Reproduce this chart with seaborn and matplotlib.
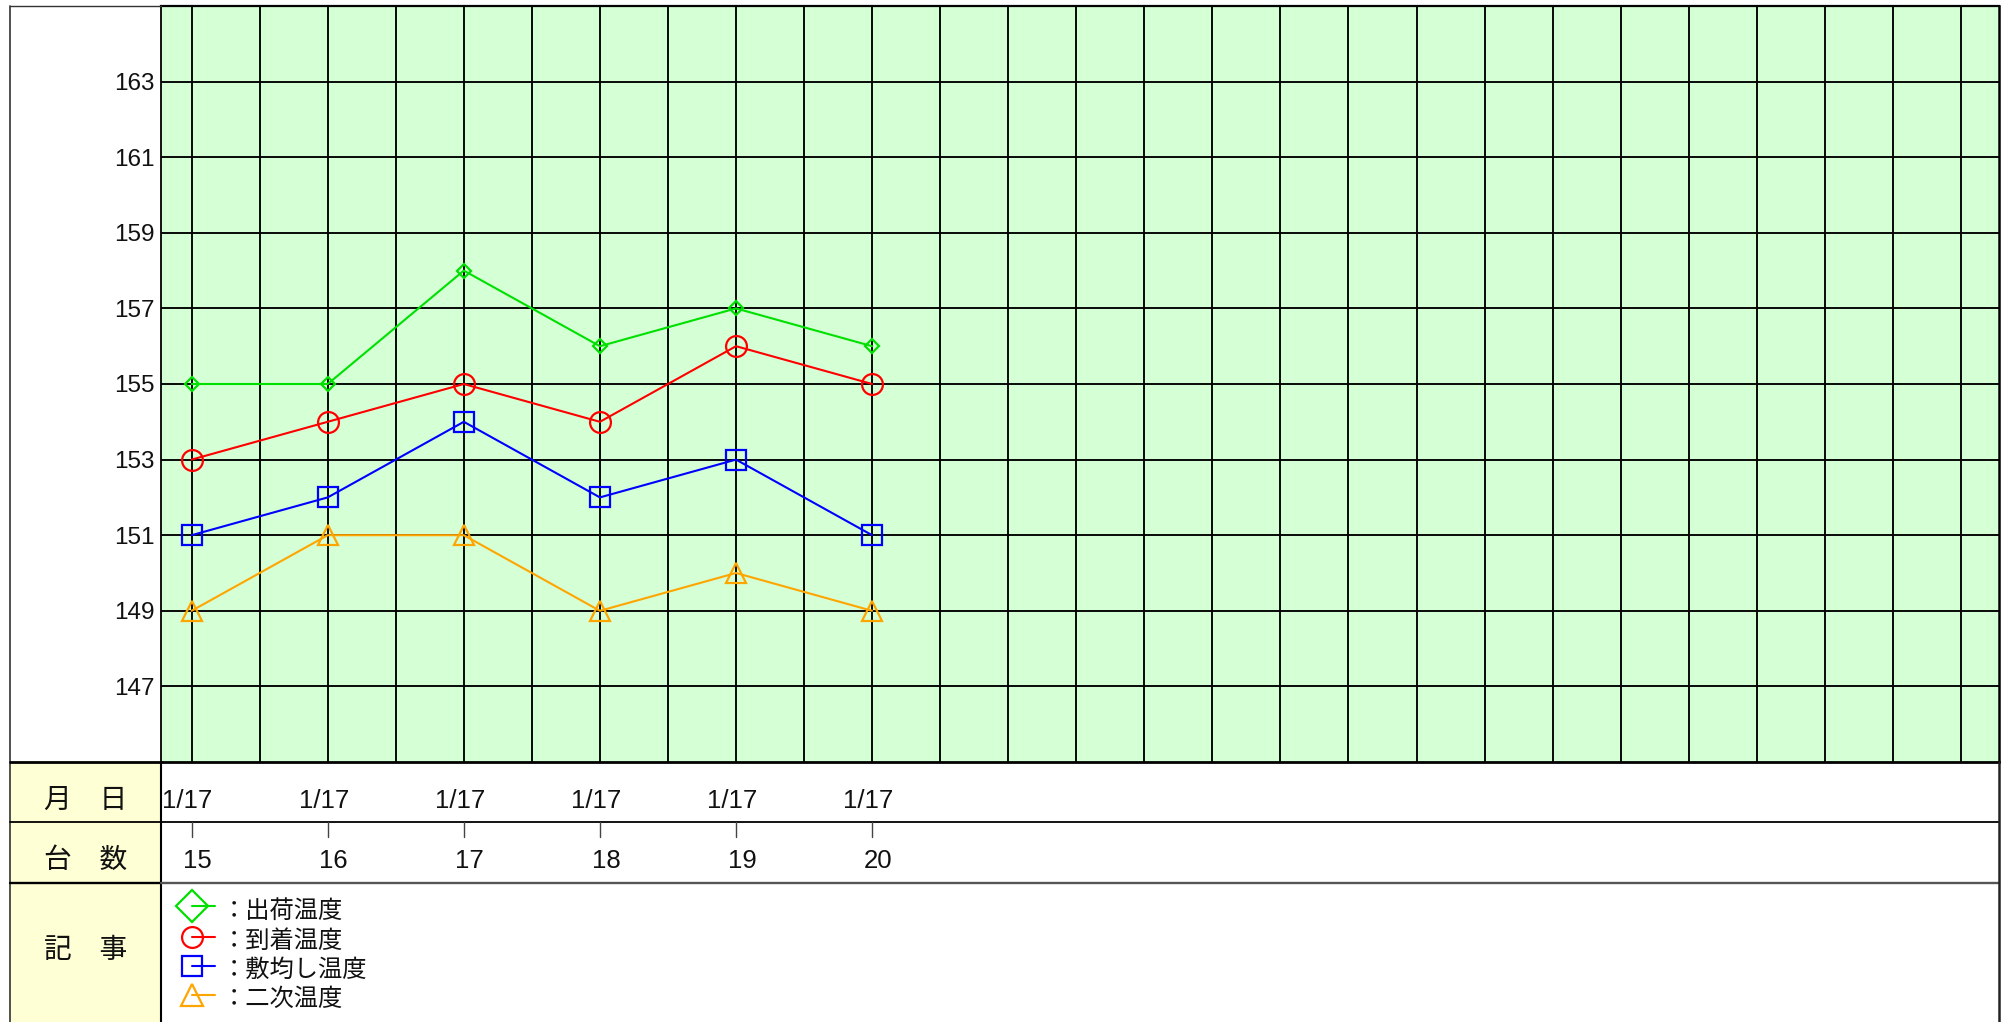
import numpy as np
import pandas as pd
import matplotlib
matplotlib.use("Agg")
import matplotlib.pyplot as plt
import matplotlib.transforms as mtransforms
from matplotlib.patches import Rectangle
import seaborn as sns

# ---- data ----
units = [15, 16, 17, 18, 19, 20]
dates = ["1/17", "1/17", "1/17", "1/17", "1/17", "1/17"]
shipping = [155, 155, 158, 156, 157, 156]
arrival = [153, 154, 155, 154, 156, 155]
spreading = [151, 152, 154, 152, 153, 151]
secondary = [149, 151, 151, 149, 150, 149]

series_names = ["出荷温度", "到着温度", "敷均し温度", "二次温度"]
series_values = [shipping, arrival, spreading, secondary]
y_ticks = list(range(147, 164, 2))
row_titles = ["月　日", "台　数", "記　事"]

# ---- styles ----
series_colors = ["#00E000", "#FF0000", "#0000FF", "#FFA500"]
series_markers = ["D", "o", "s", "^"]
plot_marker_sizes = [7.5, 15, 14.5, 15]
legend_marker_sizes = [16, 15, 15, 16]
GRID_BG = "#D5FFD5"
HEAD_BG = "#FFFFD5"

W, H = 2013, 1022
sns.set_style("white")
plt.rcParams["font.family"] = ["Liberation Sans", "Noto Sans CJK JP", "DejaVu Sans"]

fig = plt.figure(figsize=(W / 100, H / 100), dpi=100)
fig.patch.set_facecolor("white")


def px_rect(x0, y0, x1, y1):
    return [x0 / W, 1 - y1 / H, (x1 - x0) / W, (y1 - y0) / H]


LEFT, PL, PR, PT, PB = 10, 161, 1999, 6, 762
ROW1, ROW2 = 822, 883

# ---- chart area ----
ax = fig.add_axes(px_rect(PL, PT, PR, PB))
ax.set_facecolor(GRID_BG)

df = pd.DataFrame({
    "台数": units * len(series_names),
    "温度": sum(series_values, []),
    "系列": np.repeat(series_names, len(units)),
})

for name, color, marker, ms in zip(series_names, series_colors,
                                   series_markers, plot_marker_sizes):
    sns.lineplot(data=df[df["系列"] == name], x="台数", y="温度",
                 color=color, marker=marker, markersize=ms,
                 mfc="none", mec=color, mew=1.6, linewidth=1.5,
                 ax=ax, zorder=3)

ax.set_xlim(14.775, 28.28)
ax.set_ylim(145, 165)
ax.set_xticks(np.arange(15, 28.01, 0.5))
ax.set_yticks(y_ticks)
ax.set_axisbelow(True)
ax.grid(True, color="black", linewidth=1.35)
ax.tick_params(axis="x", length=0, labelbottom=False)
ax.tick_params(axis="y", length=0, pad=4.5, labelsize=17.5, labelcolor="#111111")
ax.set_xlabel("")
ax.set_ylabel("")
for side, lw in [("top", 1.6), ("bottom", 2.0), ("left", 1.3), ("right", 1.8)]:
    ax.spines[side].set_color("black")
    ax.spines[side].set_linewidth(lw)

# ---- table below the chart (pixel coordinates) ----
frame = fig.add_axes([0, 0, 1, 1], zorder=5)
frame.set_xlim(0, W)
frame.set_ylim(H, 0)
frame.axis("off")
frame.patch.set_visible(False)

frame.add_patch(Rectangle((LEFT, PB), PL - LEFT, H - PB,
                          facecolor=HEAD_BG, edgecolor="none", zorder=0))

frame.plot([LEFT, PL], [PT, PT], color="#333333", lw=1.0)
frame.plot([LEFT, LEFT], [PT, H], color="#333333", lw=1.2)
frame.plot([PL, PL], [PB, H], color="black", lw=1.5)
frame.plot([LEFT, PL], [PB, PB], color="black", lw=2.0)
frame.plot([LEFT, PR], [ROW1, ROW1], color="black", lw=1.3)
frame.plot([LEFT, PL], [ROW2, ROW2], color="black", lw=1.7)
frame.plot([PL, PR], [ROW2, ROW2], color="#555555", lw=1.7)
frame.plot([PR, PR], [PB, H], color="#222222", lw=1.8)

row_centers = [801, 861, 951]
for title, yc in zip(row_titles, row_centers):
    frame.text((LEFT + PL) / 2, yc, title, ha="center", va="center",
               fontsize=20, color="#111111")

blend = mtransforms.blended_transform_factory(ax.transData, frame.transData)
date_tf = blend + mtransforms.ScaledTranslation(-4 / 100, 0, fig.dpi_scale_trans)
unit_tf = blend + mtransforms.ScaledTranslation(6 / 100, 0, fig.dpi_scale_trans)

for u, d in zip(units, dates):
    frame.text(u, 801.5, d, transform=date_tf, ha="center", va="center",
               fontsize=18.5, color="#111111")
    frame.text(u, 861.5, str(u), transform=unit_tf, ha="center", va="center",
               fontsize=18.5, color="#111111")
    frame.plot([u, u], [ROW1, ROW1 + 15], transform=blend,
               color="#444444", lw=1.0)

# ---- legend in the notes row ----
legend_rows = [906, 937, 966, 995]
for name, color, marker, ms, yc in zip(series_names, series_colors,
                                       series_markers, legend_marker_sizes,
                                       legend_rows):
    frame.plot([192, 215], [yc, yc], color=color, lw=1.5)
    frame.plot([192], [yc], marker=marker, markersize=ms, mfc="none",
               mec=color, mew=1.6, linestyle="none")
    frame.text(222, yc + 5, "：" + name, ha="left", va="center",
               fontsize=17.5, color="#111111")

fig.savefig("out.png", dpi=100, facecolor="white")
